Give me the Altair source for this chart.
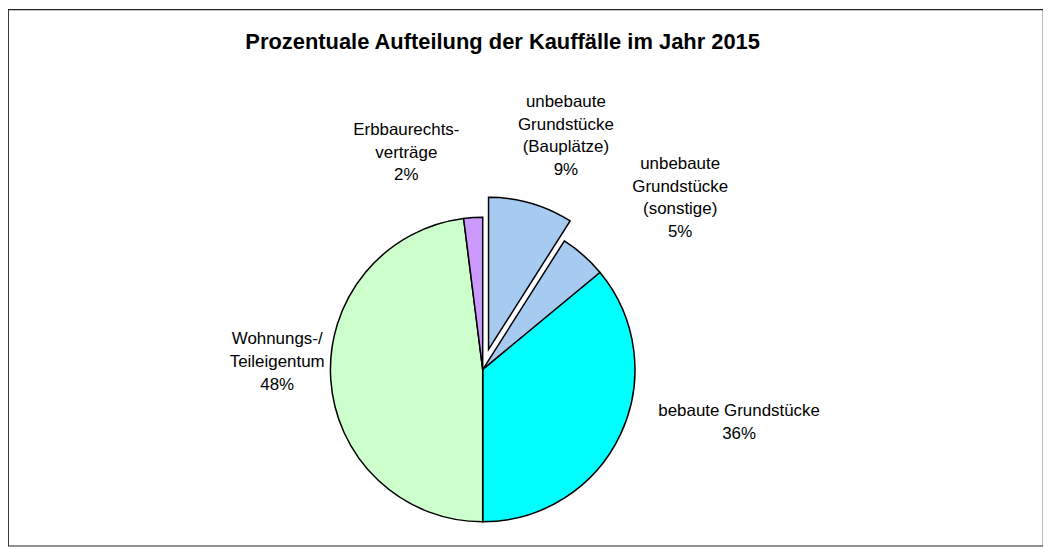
import math
import altair as alt
import pandas as pd

# ---- data ----
categories = [
    "unbebaute Grundstücke (Bauplätze)",
    "unbebaute Grundstücke (sonstige)",
    "bebaute Grundstücke",
    "Wohnungs-/Teileigentum",
    "Erbbaurechtsverträge",
]
label_lines = [
    ["unbebaute", "Grundstücke", "(Bauplätze)"],
    ["unbebaute", "Grundstücke", "(sonstige)"],
    ["bebaute Grundstücke"],
    ["Wohnungs-/", "Teileigentum"],
    ["Erbbaurechts-", "verträge"],
]
shares = [9, 5, 36, 48, 2]
colors = ["#A6CAF0", "#A6CAF0", "#00FFFF", "#CCFFCC", "#CC99FF"]
exploded = "unbebaute Grundstücke (Bauplätze)"
title_text = "Prozentuale Aufteilung der Kauffälle im Jahr 2015"

# ---- layout / style ----
W, H = 1040, 539
CX, CY = 477, 362
R = 153
EXPLODE = 21
LABEL_R = 235
FONT = "Liberation Sans"
LH = 22.7
# per-label nudges relative to the slice mid-angle position (dx, dy)
nudges = {
    categories[0]: (18, -43),
    categories[1]: (43, -30),
    categories[2]: (45, -58),
    categories[3]: (28, -45),
    categories[4]: (-62, -6),
}

df = pd.DataFrame({
    "cat": categories,
    "share": shares,
    "order": list(range(len(categories))),
    "label": ["\n".join(l + [f"{s}%"]) for l, s in zip(label_lines, shares)],
})

# exploded offset along the bisector of the exploded slice
total = sum(shares)
idx = categories.index(exploded)
mid = (sum(shares[:idx]) + shares[idx] / 2) / total * 2 * math.pi
ex_dx = EXPLODE * math.sin(mid)
ex_dy = -EXPLODE * math.cos(mid)

base = alt.Chart(df).encode(
    theta=alt.Theta("share:Q", stack=True),
    order=alt.Order("order:Q", sort="ascending"),
)

color = alt.Color("cat:N", scale=alt.Scale(domain=categories, range=colors), legend=None)

pie = base.mark_arc(radius=R, stroke="black", strokeWidth=1.5).encode(
    x=alt.value(CX), y=alt.value(CY), color=color,
    opacity=alt.condition(alt.datum.cat == exploded, alt.value(0), alt.value(1)),
)
pie_ex = base.mark_arc(radius=R, stroke="black", strokeWidth=1.5).encode(
    x=alt.value(CX + ex_dx), y=alt.value(CY + ex_dy), color=color,
    opacity=alt.condition(alt.datum.cat == exploded, alt.value(1), alt.value(0)),
)

labels = []
for c in categories:
    dx, dy = nudges[c]
    labels.append(
        base.mark_text(
            radius=LABEL_R, dx=dx, dy=dy, font=FONT, fontSize=17, lineHeight=LH,
            lineBreak="\n", align="center", baseline="middle", color="black",
        ).encode(
            x=alt.value(CX), y=alt.value(CY), text="label:N",
            opacity=alt.condition(alt.datum.cat == c, alt.value(1), alt.value(0)),
        )
    )

title = alt.Chart(pd.DataFrame({"t": [title_text]})).mark_text(
    font=FONT, fontSize=22, fontWeight="bold", align="center", baseline="alphabetic", color="black"
).encode(x=alt.value(497), y=alt.value(40), text="t:N")

chart = alt.layer(pie, pie_ex, *labels, title).properties(
    width=W, height=H, padding=0, autosize="none"
).configure_view(stroke="#222222", strokeWidth=1.2)

chart.save("out.html", embed_options={"renderer": "svg", "actions": False})
